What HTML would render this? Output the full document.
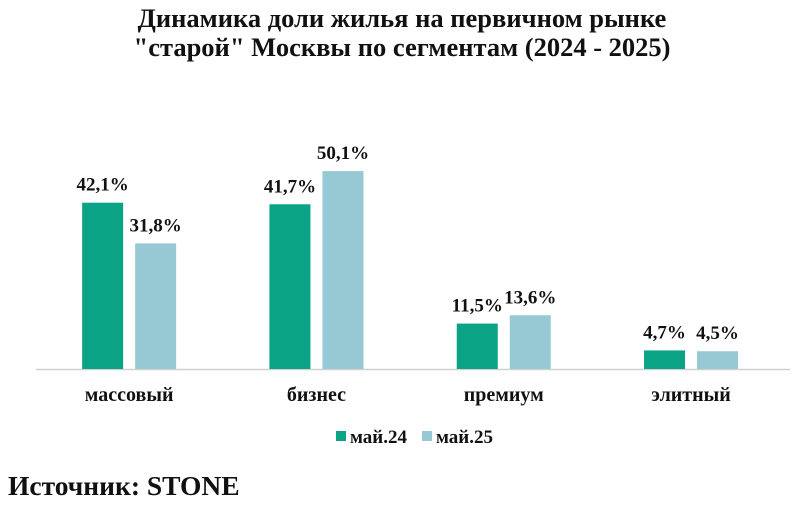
<!DOCTYPE html>
<html><head><meta charset="utf-8"><style>
body{margin:0;background:#fff;width:800px;height:501px;overflow:hidden;font-family:"Liberation Serif",serif;}
svg text{font-family:"Liberation Serif",serif;font-weight:bold;fill:#111;}
</style></head><body>
<svg width="800" height="501">
<text x="402" y="27" text-anchor="middle" font-size="26.5">Динамика доли жилья на первичном рынке</text>
<text x="402" y="56" text-anchor="middle" font-size="26.5">"старой" Москвы по сегментам (2024 - 2025)</text>
<line x1="36" y1="369.5" x2="790" y2="369.5" stroke="#d0d0d0" stroke-width="1.5"/>
<g id="bars"></g>
<g>
<rect x="336" y="431" width="10" height="10" fill="#0ba386"/>
<text x="350" y="443" font-size="19">май.24</text>
<rect x="422" y="431" width="10" height="10" fill="#96c9d4"/>
<text x="436" y="443" font-size="19">май.25</text>
</g>
<text x="8" y="495" font-size="27.5">Источник: STONE</text>
</svg>
<script>
const categories=["массовый","бизнес","премиум","элитный"];
const may24=[42.1,41.7,11.5,4.7];
const may25=[31.8,50.1,13.6,4.5];
const labels24=["42,1%","41,7%","11,5%","4,7%"];
const labels25=["31,8%","50,1%","13,6%","4,5%"];
const NS="http://www.w3.org/2000/svg";
const g=document.getElementById('bars');
const base=369, k=3.95, x0=35.5, step=187.3;
const xc=i=>x0+step*(i+0.5);
const y=v=>base-v*k;
function mk(t,a){const e=document.createElementNS(NS,t);for(const n in a)e.setAttribute(n,a[n]);g.appendChild(e);return e;}
categories.forEach((c,i)=>{
  const cx=xc(i);
  [[may24,labels24,"#0ba386",-47,"may24"],[may25,labels25,"#96c9d4",6,"may25"]].forEach(([arr,lab,col,off,nm])=>{
    const r=mk('rect',{x:cx+off,y:y(arr[i]),width:41,height:arr[i]*k,fill:col});
    
    
    const t=mk('text',{x:cx+off+20.5,y:y(arr[i])-12,'text-anchor':'middle','font-size':'19'});
    t.textContent=lab[i];
    
    
  });
  const ct=mk('text',{x:cx,y:401,'text-anchor':'middle','font-size':'20'});
  ct.textContent=c;
  
  
});
</script>
</body></html>
